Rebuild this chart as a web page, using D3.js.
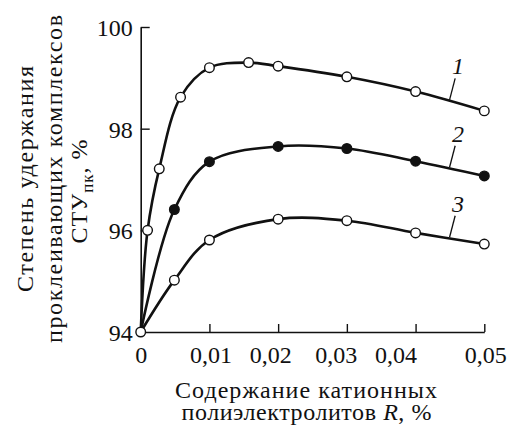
<!DOCTYPE html>
<html>
<head>
<meta charset="utf-8">
<title>chart</title>
<script src="https://cdn.jsdelivr.net/npm/d3@7"></script>
</head>
<body style="margin:0;background:#ffffff">
<div id="chart"></div>
<script>
// Data
const xTicks = [0, 0.01, 0.02, 0.03, 0.04, 0.05];
const xTickLabels = ["0", "0,01", "0,02", "0,03", "0,04", "0,05"];
const yTicks = [94, 96, 98, 100];
const yTickLabels = ["94", "96", "98", "100"];

const series1R = [0, 0.001, 0.0027, 0.0058, 0.01, 0.0157, 0.02, 0.03, 0.04, 0.05];
const series1V = [94, 96.0, 97.21, 98.62, 99.2, 99.3, 99.23, 99.02, 98.73, 98.35];
const series2R = [0, 0.0049, 0.01, 0.02, 0.03, 0.04, 0.05];
const series2V = [94, 96.41, 97.35, 97.65, 97.61, 97.36, 97.07];
const series3R = [0, 0.0049, 0.01, 0.02, 0.03, 0.04, 0.05];
const series3V = [94, 95.02, 95.81, 96.22, 96.19, 95.95, 95.73];
const seriesNames = ["1", "2", "3"];
const seriesFilled = [false, true, false];
const labelAtR = [0.0448, 0.0448, 0.0448];

const svg = d3.select("#chart").append("svg")
  .attr("width", 509).attr("height", 425)
  .style("display", "block")
  .style("font-family", "Liberation Serif")
  .style("font-size", "24px");

const x = d3.scaleLinear().domain([0, 0.05]).range([140.7, 484.3]);
const y = d3.scaleLinear().domain([94, 100]).range([332, 27]);

// Axes
const xAxis = d3.axisBottom(x).tickValues(xTicks)
  .tickFormat((d, i) => xTickLabels[i]).tickSizeInner(-8).tickSizeOuter(0).tickPadding(14);
const yAxis = d3.axisLeft(y).tickValues(yTicks)
  .tickFormat((d, i) => yTickLabels[i]).tickSizeInner(-9).tickSizeOuter(0).tickPadding(8);

const gx = svg.append("g").attr("transform", "translate(0,332)").call(xAxis);
const gy = svg.append("g").attr("transform", "translate(140.7,0)").call(yAxis);
[gx, gy].forEach(g => {
  g.attr("font-family", null).attr("font-size", null);
  g.select("path.domain").attr("stroke", "#111").attr("stroke-width", 1.6);
  g.selectAll(".tick line").attr("stroke", "#111").attr("stroke-width", 1.4);
  g.selectAll(".tick text").attr("fill", "#111");
});
gx.selectAll(".tick").filter(d => d === 0).select("line").remove();
gy.selectAll(".tick").filter(d => d === 94).select("line").remove();
const xLabelShift = [0, 1, -8, -11, -20, 1];
gx.selectAll(".tick text").attr("dx", (d, i) => xLabelShift[i]);
gy.selectAll(".tick text").attr("dy", "0.35em");

// Curves
const allR = [series1R, series2R, series3R];
const allV = [series1V, series2V, series3V];
const line = d3.line().x(d => x(d[0])).y(d => y(d[1])).curve(d3.curveCatmullRom.alpha(0.5));

allR.forEach((rs, k) => {
  const pts = rs.map((r, i) => [r, allV[k][i]]);
  svg.append("path").datum(pts).attr("d", line)
    .attr("fill", "none").attr("stroke", "#111").attr("stroke-width", 2.6);
});
allR.forEach((rs, k) => {
  const pts = rs.map((r, i) => [r, allV[k][i]]);
  svg.append("g").selectAll("circle").data(pts.slice(1)).join("circle")
    .attr("cx", d => x(d[0])).attr("cy", d => y(d[1])).attr("r", 4.8)
    .attr("fill", seriesFilled[k] ? "#111" : "#fff")
    .attr("stroke", "#111").attr("stroke-width", 1.4);
});
svg.append("circle").attr("cx", x(series1R[0])).attr("cy", y(series1V[0])).attr("r", 4.8)
  .attr("fill", "#fff").attr("stroke", "#111").attr("stroke-width", 1.4);

// Curve labels with leader lines
const interp = (rs, vs, r) => {
  for (let i = 1; i < rs.length; i++) if (r <= rs[i]) {
    const t = (r - rs[i-1]) / (rs[i] - rs[i-1]);
    return vs[i-1] + t * (vs[i] - vs[i-1]);
  }
  return vs[vs.length - 1];
};
seriesNames.forEach((nm, k) => {
  const cx = x(labelAtR[k]);
  const cy = y(interp(allR[k], allV[k], labelAtR[k])) - 1;
  svg.append("line").attr("x1", cx + 1).attr("y1", cy)
    .attr("x2", cx + 6.6).attr("y2", cy - 21.5)
    .attr("stroke", "#111").attr("stroke-width", 1.3);
  svg.append("text").attr("x", cx + 9.5).attr("y", cy - 25.5)
    .attr("text-anchor", "middle").attr("fill", "#111")
    .style("font-style", "italic")
    .text(nm);
});

// Axis titles (two separate lines), widths matched to the reference typesetting
svg.append("text").attr("x", 306).attr("y", 398).attr("text-anchor", "middle")
  .attr("textLength", 262).attr("lengthAdjust", "spacing")
  .attr("fill", "#111").text("Содержание катионных");
const l2 = svg.append("text").attr("x", 306.5).attr("y", 420).attr("text-anchor", "middle")
  .attr("textLength", 250).attr("lengthAdjust", "spacing")
  .attr("fill", "#111");
l2.append("tspan").text("полиэлектролитов ");
l2.append("tspan").style("font-style", "italic").text("R");
l2.append("tspan").text(", %");

svg.append("text").attr("transform", "translate(33,179) rotate(-90)")
  .attr("textLength", 226).attr("lengthAdjust", "spacing")
  .attr("text-anchor", "middle").attr("fill", "#111").text("Степень удержания");
svg.append("text").attr("transform", "translate(62,179) rotate(-90)")
  .attr("textLength", 328).attr("lengthAdjust", "spacing")
  .attr("text-anchor", "middle").attr("fill", "#111").text("проклеивающих комплексов");
const t3 = svg.append("text").attr("transform", "translate(87,191) rotate(-90)")
  .attr("text-anchor", "middle").attr("fill", "#111").style("letter-spacing", "1px");
t3.append("tspan").text("СТУ");
t3.append("tspan").style("font-size", "17px").attr("dy", 6).text("пк");
t3.append("tspan").attr("dy", -6).text(", %");

svg.selectAll("text").style("font-family", "Liberation Serif");
</script>
</body>
</html>
